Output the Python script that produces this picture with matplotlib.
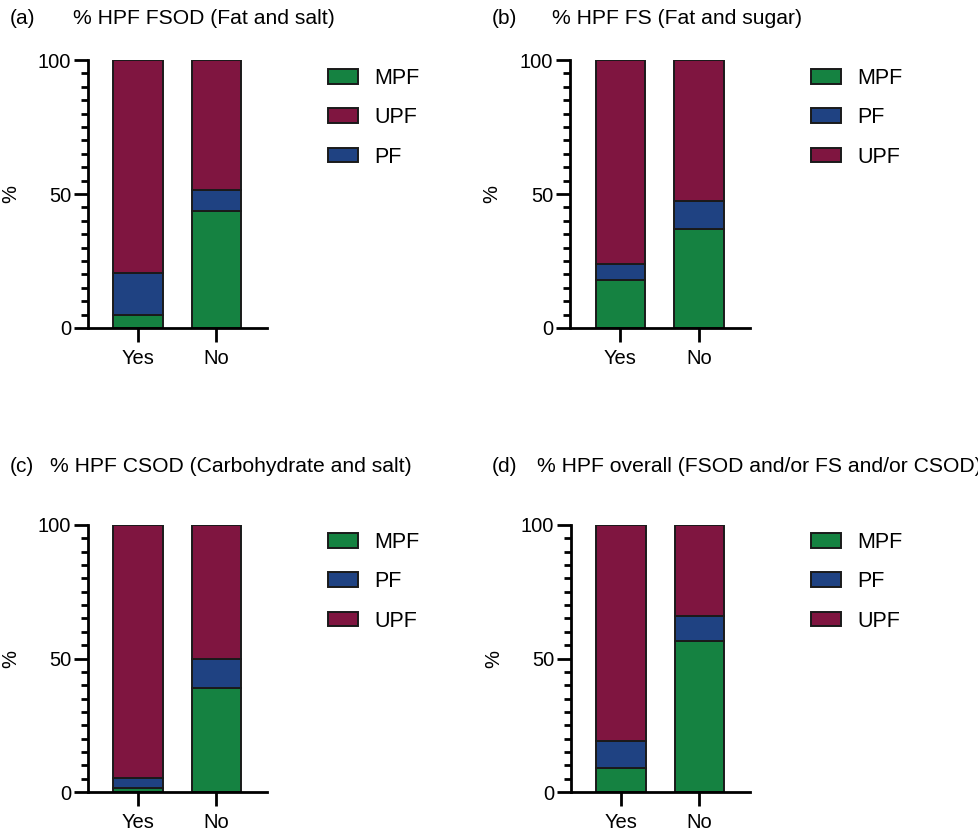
import numpy as np
import matplotlib
matplotlib.use("Agg")
import matplotlib.pyplot as plt
from matplotlib.patches import Patch
from matplotlib.ticker import MultipleLocator

plt.rcParams["font.family"] = ["Liberation Sans", "DejaVu Sans"]

groups = ["Yes", "No"]

# % of each processing category
a_mpf = [5.0, 43.5]
a_pf = [15.6, 7.9]
a_upf = [79.4, 48.6]

b_mpf = [17.8, 37.0]
b_pf = [6.0, 10.5]
b_upf = [76.2, 52.5]

c_mpf = [1.6, 39.1]
c_pf = [3.8, 10.7]
c_upf = [94.6, 50.2]

d_mpf = [9.0, 56.4]
d_pf = [10.2, 9.4]
d_upf = [80.8, 34.2]

titles = ["% HPF FSOD (Fat and salt)",
          "% HPF FS (Fat and sugar)",
          "% HPF CSOD (Carbohydrate and salt)",
          "% HPF overall (FSOD and/or FS and/or CSOD)"]
letters = ["(a)", "(b)", "(c)", "(d)"]
legend_orders = [["MPF", "UPF", "PF"], ["MPF", "PF", "UPF"],
                 ["MPF", "PF", "UPF"], ["MPF", "PF", "UPF"]]

colors = {"MPF": "#158241", "PF": "#1f4282", "UPF": "#7f1540"}

W, H = 979, 832
fig = plt.figure(figsize=(W / 100, H / 100), dpi=100)

# axes boxes in pixels: left, top(100), right, bottom(0)
boxes = [(88, 60, 267, 328), (570, 60, 750, 328),
         (88, 525, 267, 792), (571, 525, 750, 792)]
legend_xy = [(328, 68), (811, 68), (328, 532), (811, 532)]
letter_pos = [(10, 18), (492, 18), (10, 467), (492, 467)]
title_x = [73, 552, 50, 537]

panels = [(a_mpf, a_pf, a_upf), (b_mpf, b_pf, b_upf),
          (c_mpf, c_pf, c_upf), (d_mpf, d_pf, d_upf)]

x = np.arange(len(groups))
for i, (mpf, pf, upf) in enumerate(panels):
    l, t, r, b = boxes[i]
    ax = fig.add_axes([l / W, 1 - b / H, (r - l) / W, (b - t) / H])
    mpf = np.array(mpf)
    pf = np.array(pf)
    upf = np.array(upf)
    kw = dict(width=0.63, edgecolor="#1a1a1a", linewidth=1.4)
    ax.bar(x, mpf, color=colors["MPF"], **kw)
    ax.bar(x, pf, bottom=mpf, color=colors["PF"], **kw)
    ax.bar(x, upf, bottom=mpf + pf, color=colors["UPF"], **kw)

    ax.set_xlim(-0.64, 1.65)
    ax.set_ylim(0, 100)
    ax.set_xticks(x)
    ax.set_xticklabels(groups, fontsize=14.5)
    ax.set_yticks([0, 50, 100])
    ax.yaxis.set_minor_locator(MultipleLocator(5))
    ax.tick_params(axis="y", which="major", length=10, width=2, labelsize=14.5, pad=2)
    ax.tick_params(axis="y", which="minor", length=5, width=2)
    ax.tick_params(axis="x", which="major", length=10, width=2, labelsize=14.5, pad=5)
    for s in ["top", "right"]:
        ax.spines[s].set_visible(False)
    for s in ["left", "bottom"]:
        ax.spines[s].set_linewidth(2)
    ax.set_ylabel("%", fontsize=14.5)
    ax.yaxis.set_label_coords(-0.38, 0.5)

    order = legend_orders[i]
    handles = [Patch(facecolor=colors[k], edgecolor="#1a1a1a", linewidth=1.4) for k in order]
    lgx, lgy = legend_xy[i]
    ax.legend(handles, order, loc="upper left",
              bbox_to_anchor=((lgx - l) / (r - l), (b - lgy) / (b - t)),
              frameon=False, fontsize=15.5, borderpad=0, borderaxespad=0,
              handlelength=1.4, handleheight=0.68, handletextpad=0.75, labelspacing=0.85)

    lx, ly = letter_pos[i]
    fig.text(lx / W, 1 - ly / H, letters[i], fontsize=15, va="center", ha="left")
    fig.text(title_x[i] / W, 1 - ly / H, titles[i], fontsize=15.2, va="center", ha="left")

fig.savefig("out.png", dpi=100)
